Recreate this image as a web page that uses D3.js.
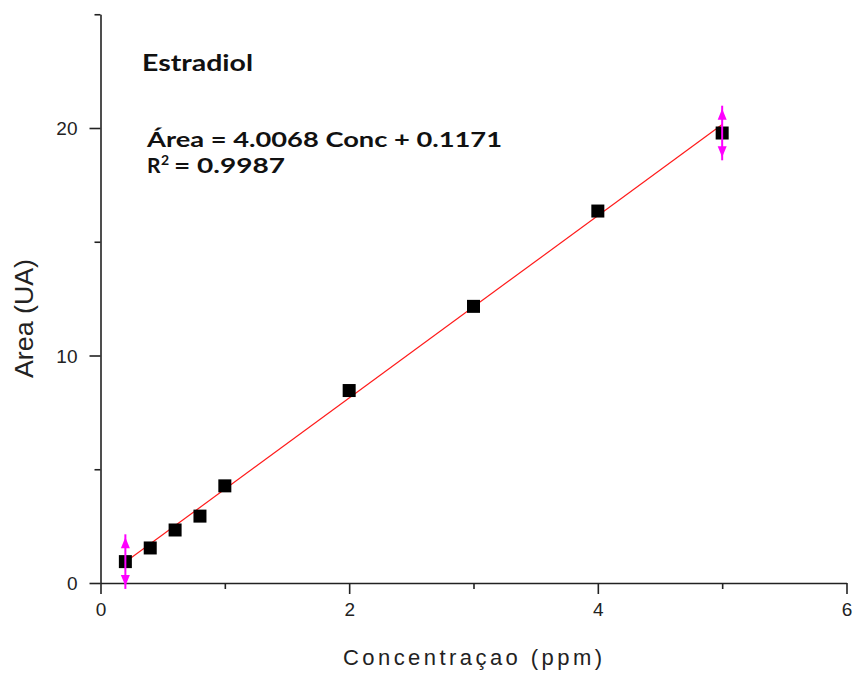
<!DOCTYPE html>
<html>
<head>
<meta charset="utf-8">
<script src="https://cdn.jsdelivr.net/npm/d3@7/dist/d3.min.js"></script>
<style>
  html, body { margin: 0; padding: 0; background: #fff; }
  svg { display: block; }
</style>
</head>
<body>
<svg id="chart" width="853" height="675"></svg>
<script>
// ---- data ----
const concentrations = [0.2, 0.4, 0.6, 0.8, 1.0, 2, 3, 4, 5];
const areas = [0.94, 1.54, 2.33, 2.94, 4.27, 8.46, 12.16, 16.35, 19.78];
const fitSlope = 4.0068;
const fitIntercept = 0.1171;
const fitRange = [0.2, 5];
const markerX = [0.2, 5];
const markerY = [0.94, 19.78];
const markerHalf = [1.2, 1.2];
const xMajorTicks = [0, 2, 4, 6];
const xMinorTicks = [1, 3, 5];
const yMajorTicks = [0, 10, 20];
const yMinorTicks = [5, 15, 25];
const titleText = "Estradiol";
const equationText = "Área = 4.0068 Conc + 0.1171";
const r2Label = "R";
const r2Value = "= 0.9987";
const xTitle = "Concentraçao (ppm)";
const yTitle = "Area (UA)";

// ---- layout ----
const svg = d3.select("#chart");
const x = d3.scaleLinear().domain([0, 6]).range([100.5, 846.5]);
const y = d3.scaleLinear().domain([0, 25]).range([583, 14.25]);
const axisColor = "#222";
const labelFont = "'Liberation Sans', Arial, sans-serif";

// x axis
const gx = svg.append("g").attr("transform", `translate(0,${y(0)})`);
gx.call(d3.axisBottom(x).tickValues(xMajorTicks).tickSize(11).tickSizeOuter(0).tickFormat(d3.format("d")));
const gxm = svg.append("g").attr("transform", `translate(0,${y(0)})`);
gxm.call(d3.axisBottom(x).tickValues(xMinorTicks).tickSize(6).tickSizeOuter(0).tickFormat(""));
gxm.select(".domain").remove();

// y axis
const gy = svg.append("g").attr("transform", `translate(${x(0)},0)`);
gy.call(d3.axisLeft(y).tickValues(yMajorTicks).tickSize(11).tickSizeOuter(0).tickFormat(d3.format("d")));
const gym = svg.append("g").attr("transform", `translate(${x(0)},0)`);
gym.call(d3.axisLeft(y).tickValues(yMinorTicks).tickSize(6).tickSizeOuter(0).tickFormat(""));
gym.select(".domain").remove();

svg.selectAll(".domain").attr("stroke", axisColor).attr("stroke-width", 1.6);
svg.selectAll(".tick line").attr("stroke", axisColor).attr("stroke-width", 1.6);
svg.selectAll(".tick text").attr("fill", "#222").style("font-family", labelFont).style("font-size", "19px");
gx.selectAll(".tick text").attr("y", 20).attr("dy", "0.71em");
gy.selectAll(".tick text").attr("x", -23).attr("dy", "0.36em");

// fit line
svg.append("line")
  .attr("x1", x(fitRange[0])).attr("y1", y(fitSlope * fitRange[0] + fitIntercept))
  .attr("x2", x(fitRange[1])).attr("y2", y(fitSlope * fitRange[1] + fitIntercept))
  .attr("stroke", "#ff1a1a").attr("stroke-width", 1.2);

// data squares
const sq = 13;
svg.append("g").selectAll("rect")
  .data(concentrations.map((c, i) => [c, areas[i]]))
  .join("rect")
  .attr("x", d => x(d[0]) - sq / 2)
  .attr("y", d => y(d[1]) - sq / 2)
  .attr("width", sq).attr("height", sq)
  .attr("fill", "#000");

// magenta double arrows
const mg = svg.append("g");
markerX.forEach((mx, i) => {
  const cx = x(mx);
  const top = y(markerY[i] + markerHalf[i]);
  const bot = y(markerY[i] - markerHalf[i]);
  mg.append("line").attr("x1", cx).attr("x2", cx).attr("y1", top).attr("y2", bot)
    .attr("stroke", "#ff00ff").attr("stroke-width", 2);
  const tipT = top + 3, tipB = bot - 3, h = 11, w = 4.5;
  mg.append("path").attr("d", `M${cx},${tipT} L${cx + w},${tipT + h} L${cx - w},${tipT + h} Z`).attr("fill", "#ff00ff");
  mg.append("path").attr("d", `M${cx},${tipB} L${cx + w},${tipB - h} L${cx - w},${tipB - h} Z`).attr("fill", "#ff00ff");
});

// annotations
const annFont = "Lato, 'Open Sans', sans-serif";
svg.append("text").attr("x", 142).attr("y", 71)
  .attr("textLength", 111).attr("lengthAdjust", "spacingAndGlyphs")
  .style("font-family", annFont).style("font-weight", "bold").style("font-size", "22px")
  .attr("fill", "#111").text(titleText);
svg.append("text").attr("x", 147).attr("y", 146.5)
  .attr("textLength", 355).attr("lengthAdjust", "spacingAndGlyphs")
  .style("font-family", annFont).style("font-weight", "bold").style("font-size", "21px")
  .attr("fill", "#111").text(equationText);
const r2 = svg.append("g").attr("fill", "#111")
  .style("font-family", annFont).style("font-weight", "bold").style("font-size", "21px");
r2.append("text").attr("x", 147).attr("y", 173.3).text(r2Label);
r2.append("text").attr("x", 161).attr("y", 164.5).style("font-size", "14px").text("2");
r2.append("text").attr("x", 174).attr("y", 173.3)
  .attr("textLength", 111).attr("lengthAdjust", "spacingAndGlyphs").text(r2Value);

// axis titles
svg.append("text")
  .attr("x", 472.5).attr("y", 665)
  .attr("text-anchor", "middle")
  .attr("textLength", 259).attr("lengthAdjust", "spacing")
  .style("font-family", labelFont).style("font-size", "22px")
  .attr("fill", "#222").text(xTitle);
svg.append("text")
  .attr("transform", "translate(33,318.5) rotate(-90)")
  .attr("text-anchor", "middle")
  .attr("textLength", 119).attr("lengthAdjust", "spacingAndGlyphs")
  .style("font-family", labelFont).style("font-size", "25px")
  .attr("fill", "#222").text(yTitle);
</script>
</body>
</html>
